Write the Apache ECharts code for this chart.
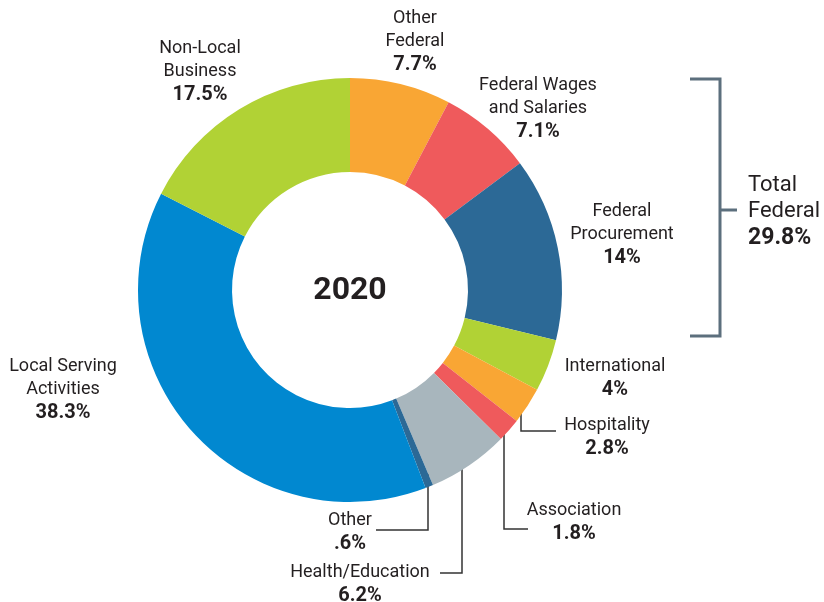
<!DOCTYPE html>
<html>
<head>
<meta charset="utf-8">
<script src="https://cdn.jsdelivr.net/npm/echarts@6/dist/echarts.min.js"></script>
<style>
  html, body { margin: 0; padding: 0; background: #fff; }
  #main { width: 824px; height: 602px; }
</style>
</head>
<body>
<div id="main"></div>
<script>
  // slices, clockwise from 12 o'clock
  const names = ['Other\nFederal', 'Federal Wages\nand Salaries', 'Federal\nProcurement', 'International',
    'Hospitality', 'Association', 'Health/Education', 'Other', 'Local Serving\nActivities', 'Non-Local\nBusiness'];
  const values = [7.7, 7.1, 14, 4, 2.8, 1.8, 6.2, 0.6, 38.3, 17.5];
  const valueLabels = ['7.7%', '7.1%', '14%', '4%', '2.8%', '1.8%', '6.2%', '.6%', '38.3%', '17.5%'];
  const colors = ['#F9A634', '#EF5A5C', '#2C6996', '#B1D235', '#F9A634', '#EF5A5C', '#A8B6BD', '#2C6996', '#0188D0', '#B1D235'];

  // label anchor (top-centre) for each slice
  const labelPos = [[415, 7], [538, 74], [622, 200], [615, 355], [607, 414], [574, 499], [360, 561], [350, 509], [63, 355], [200, 37]];

  const font = 'Roboto, "Liberation Sans", sans-serif';
  const ink = '#231F20';

  let myChart = echarts.init(document.getElementById('main'));

  let option = {
    backgroundColor: '#fff',
    animation: false,
    series: [{
      type: 'pie',
      center: [350, 290],
      radius: [118, 212],
      startAngle: 90,
      clockwise: true,
      avoidLabelOverlap: false,
      label: {
        show: true,
        position: 'outside',
        formatter: function (p) {
          return '{n|' + p.name.split('\n').join('}\n{n|') + '}\n{v|' + valueLabels[p.dataIndex] + '}';
        },
        rich: {
          n: { fontFamily: font, fontSize: 18, color: ink, lineHeight: 23, align: 'center' },
          v: { fontFamily: font, fontSize: 20, fontWeight: 'bold', color: ink, lineHeight: 24, align: 'center' }
        }
      },
      labelLine: { show: false },
      labelLayout: function (p) {
        const pos = labelPos[p.dataIndex];
        return { x: pos[0], y: pos[1], align: 'center', verticalAlign: 'top' };
      },
      data: names.map((n, i) => ({ name: n, value: values[i], itemStyle: { color: colors[i] } }))
    }],
    graphic: [
      { type: 'text', x: 350, y: 291, style: { text: '2020', font: 'bold 32px ' + font, fill: ink, align: 'center', verticalAlign: 'middle' } },
      // bracket for total federal
      { type: 'polyline', shape: { points: [[690, 79], [720, 79], [720, 336], [690, 336]] },
        style: { stroke: '#5C6F7D', lineWidth: 3, fill: null } },
      { type: 'line', shape: { x1: 720, y1: 210, x2: 737, y2: 210 }, style: { stroke: '#5C6F7D', lineWidth: 3 } },
      { type: 'text', left: 748, top: 172, style: { text: 'Total\nFederal', font: '22px ' + font, fill: ink, lineHeight: 26 } },
      { type: 'text', left: 748, top: 227, style: { text: '29.8%', font: 'bold 23px ' + font, fill: ink } },
      // leader lines
      { type: 'polyline', shape: { points: [[521, 398], [521, 431], [556, 431]] }, style: { stroke: '#333', lineWidth: 1.5, fill: null } },
      { type: 'polyline', shape: { points: [[504, 420], [504, 529], [528, 529]] }, style: { stroke: '#333', lineWidth: 1.5, fill: null } },
      { type: 'polyline', shape: { points: [[462, 446], [462, 573], [440, 573]] }, style: { stroke: '#333', lineWidth: 1.5, fill: null } },
      { type: 'polyline', shape: { points: [[428, 474], [428, 530], [376, 530]] }, style: { stroke: '#333', lineWidth: 1.5, fill: null } }
    ]
  };
  myChart.setOption(option);
</script>
</body>
</html>
